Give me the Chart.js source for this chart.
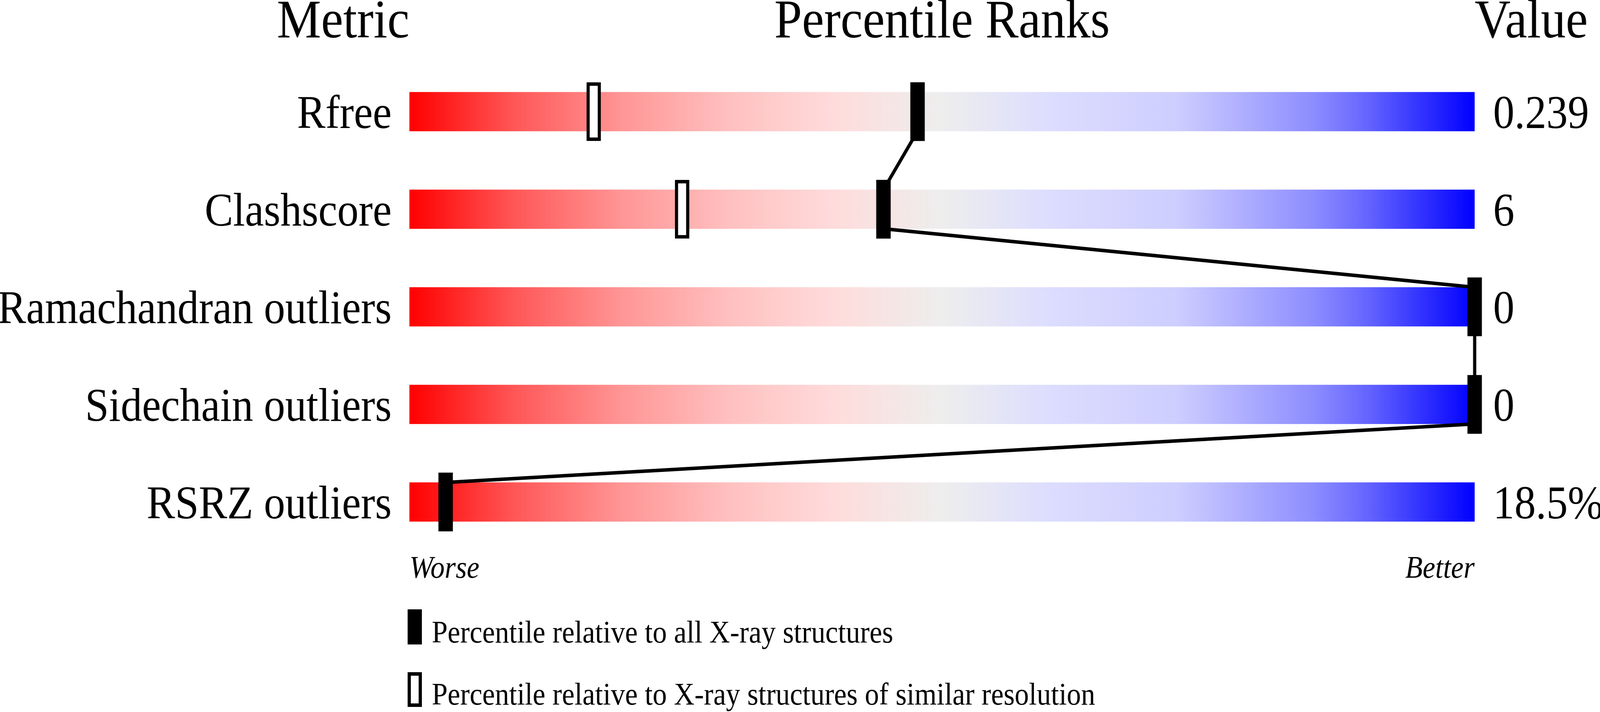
<!DOCTYPE html>
<html>
<head>
<meta charset="utf-8">
<script src="https://cdn.jsdelivr.net/npm/chart.js@4.4.1/dist/chart.umd.min.js"></script>
<style>
  html, body { margin: 0; padding: 0; background: #fff; overflow: hidden; }
</style>
</head>
<body>
<canvas id="slider" width="4506" height="1824" style="width:100vw;height:100vh;display:block"></canvas>
<script>
// metrics and their values
const metrics = ['Rfree', 'Clashscore', 'Ramachandran outliers', 'Sidechain outliers', 'RSRZ outliers']
const values = ['0.239', '6', '0', '0', '18.5%']
// percentile relative to all X-ray structures
const pctAll = [47.7, 44.5, 100, 100, 3.4]
// percentile relative to structures of similar resolution (missing where not shown)
const pctSimilar = [17.3, 25.6, null, null, null]
const xTickLabels = ['Worse', 'Better']
const headers = ['Metric', 'Percentile Ranks', 'Value']
const legendTexts = [
  'Percentile relative to all X-ray structures',
  'Percentile relative to X-ray structures of similar resolution'
]

const SERIF = "'Liberation Serif', 'Times New Roman', serif"
const TRACK = 100      // track thickness px
const MARK = 150       // marker height px
const HALF = 0.667     // marker half width in percentile units

Chart.defaults.color = '#000'
Chart.defaults.font.family = SERIF

/* gradient for the tracks */
function trackGradient(ctx){
  const chart = ctx.chart
  const area = chart.chartArea
  if (!area) return null
  const g = chart.ctx.createLinearGradient(area.left, 0, area.right, 0)
  g.addColorStop(0, 'rgb(255,0,0)')
  g.addColorStop(0.1, 'rgb(255,88,88)')
  g.addColorStop(0.2, 'rgb(255,150,150)')
  g.addColorStop(0.3, 'rgb(255,192,192)')
  g.addColorStop(0.4, 'rgb(255,220,220)')
  g.addColorStop(0.5, 'rgb(238,238,238)')
  g.addColorStop(0.6, 'rgb(221,221,255)')
  g.addColorStop(0.72, 'rgb(206,206,255)')
  g.addColorStop(0.85, 'rgb(140,140,255)')
  g.addColorStop(0.9, 'rgb(100,100,255)')
  g.addColorStop(1, 'rgb(0,0,255)')
  return g
}

/* lines joining the filled markers, drawn right after the tracks */
const connectors = {
  id: 'connectors',
  afterDatasetDraw(chart, args){
    if (args.index !== 0) return
    const xs = chart.scales.x, ys = chart.scales.y
    const c = chart.ctx
    c.save()
    c.strokeStyle = '#000'
    c.lineWidth = 9
    for (let i = 0; i < pctAll.length - 1; i++){
      c.beginPath()
      c.moveTo(xs.getPixelForValue(pctAll[i]), ys.getPixelForValue(i) + TRACK / 2)
      c.lineTo(xs.getPixelForValue(pctAll[i + 1]), ys.getPixelForValue(i + 1) - TRACK / 2)
      c.stroke()
    }
    c.restore()
  }
}

/* column headers and the legend */
const decorations = {
  id: 'decorations',
  afterDraw(chart){
    const a = chart.chartArea
    const c = chart.ctx
    c.save()
    c.fillStyle = '#000'
    c.textBaseline = 'alphabetic'
    c.font = '140px ' + SERIF
    c.textAlign = 'right'
    c.fillText(headers[0], a.left, 96)
    c.textAlign = 'center'
    c.fillText(headers[1], (a.left + a.right) / 2, 96)
    c.textAlign = 'left'
    c.fillText(headers[2], a.right, 96)

    // legend
    c.font = '80px ' + SERIF
    const lx = a.left - 5
    c.fillRect(lx, 1561, 40, 90)
    c.fillText(legendTexts[0], lx + 68, 1646)
    c.fillRect(lx, 1722, 40, 89)
    c.fillStyle = '#fff'
    c.fillRect(lx + 9, 1731, 22, 71)
    c.fillStyle = '#000'
    c.fillText(legendTexts[1], lx + 68, 1805)
    c.restore()
  }
}

const data = {
  labels: metrics,
  datasets: [
    {
      label: 'track',
      data: metrics.map(() => [0, 100]),
      backgroundColor: trackGradient,
      barThickness: TRACK,
      grouped: false,
      order: 10
    },
    {
      label: 'similar',
      data: pctSimilar.map(p => p === null ? null : [p - HALF, p + HALF]),
      backgroundColor: '#fff',
      borderColor: '#000',
      borderWidth: 9,
      borderSkipped: false,
      barThickness: MARK,
      grouped: false,
      clip: false,
      order: 2
    },
    {
      label: 'all',
      data: pctAll.map(p => [p - HALF, p + HALF]),
      backgroundColor: '#000',
      barThickness: MARK,
      grouped: false,
      clip: false,
      order: 1
    }
  ]
}

const config = {
  type: 'bar',
  data: data,
  options: {
    indexAxis: 'y',
    responsive: false,
    devicePixelRatio: 1,
    animation: false,
    layout: { padding: { top: 161, left: 0, right: 0, bottom: 0 } },
    plugins: { legend: { display: false }, tooltip: { enabled: false }, title: { display: false } },
    scales: {
      x: {
        type: 'linear',
        min: 0,
        max: 100,
        position: 'bottom',
        grid: { display: false, drawTicks: false },
        border: { display: false },
        afterBuildTicks: (s) => { s.ticks = [{ value: 0 }, { value: 100 }] },
        afterFit: (s) => { s.height = 413 },
        ticks: {
          autoSkip: false,
          maxRotation: 0,
          align: 'inner',
          padding: 0,
          font: { size: 80, style: 'italic', family: SERIF },
          callback: (v) => v === 0 ? xTickLabels[0] : xTickLabels[1]
        }
      },
      y: {
        type: 'category',
        position: 'left',
        offset: true,
        grid: { display: false, drawTicks: false },
        border: { display: false },
        afterFit: (s) => { s.width = 1153 },
        ticks: { padding: 50, labelOffset: 10, autoSkip: false, font: { size: 120, family: SERIF } }
      },
      yValue: {
        type: 'category',
        position: 'right',
        labels: values,
        offset: true,
        grid: { display: false, drawTicks: false },
        border: { display: false },
        afterFit: (s) => { s.width = 353 },
        ticks: { padding: 52, labelOffset: 10, autoSkip: false, font: { size: 120, family: SERIF } }
      }
    }
  },
  plugins: [connectors, decorations]
}

const myChart = new Chart(document.getElementById('slider'), config)
</script>
</body>
</html>
